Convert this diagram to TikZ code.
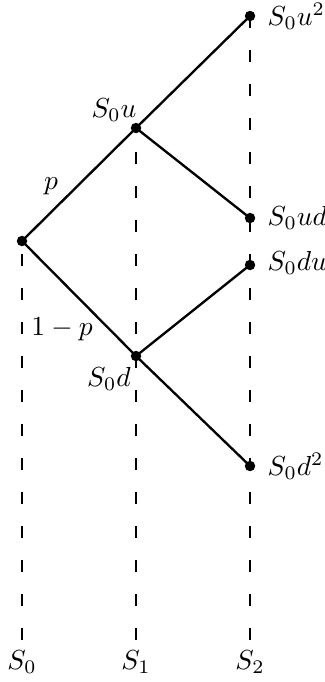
\documentclass[tikz,border=0pt]{standalone}
\pgfdeclarelayer{bg}
\pgfsetlayers{bg,main}
\begin{document}
\begin{tikzpicture}[x=0.3636pt,y=-0.3636pt,
  dot/.style={circle,fill=black,inner sep=0pt,minimum size=3.8pt},
  branch/.style={line width=0.85pt},
  guide/.style={line width=0.85pt,dash pattern=on 4.36pt off 8pt},
  lab/.style={inner sep=0pt}]
\useasboundingbox (0,0) rectangle (324,682);
% tree nodes
\node[dot] (A) at (22,241) {};
\node[dot] (B) at (136,128) {};
\node[dot] (C) at (250,16) {};
\node[dot] (D) at (250,218) {};
\node[dot] (E) at (250,265) {};
\node[dot] (F) at (136,356) {};
\node[dot] (G) at (250,466) {};
% value labels
\node[anchor=west] (tC) at (258,16) {$S_0u^2$};
\node[anchor=west] (tD) at (258,218) {$S_0ud$};
\node[anchor=west] (tE) at (258,263) {$S_0du$};
\node[anchor=west] (tG) at (258,466) {$S_0d^2$};
\node (tB) at (114,110) {$S_0u$};
\node (tF) at (109,379) {$S_0d$};
\node (lp) at (51,186) {$p$};
\node (lq) at (62,329) {$1-p$};
% bottom labels
\node (L0) at (22,662) {$S_0$};
\node (L1) at (136,662) {$S_1$};
\node (L2) at (250,662) {$S_2$};
\coordinate (b0) at (22,640);
\coordinate (b1) at (136,640);
\coordinate (b2) at (250,640);
\begin{pgfonlayer}{bg}
\draw[guide] (b0) -- (A.center);
\draw[guide] (b1) -- (B.center);
\draw[guide] (b2) -- (C.center);
\draw[branch] (A.center) -- (B.center);
\draw[branch] (B.center) -- (C.center);
\draw[branch] (B.center) -- (D.center);
\draw[branch] (A.center) -- (F.center);
\draw[branch] (F.center) -- (E.center);
\draw[branch] (F.center) -- (G.center);
\end{pgfonlayer}
\end{tikzpicture}
\end{document}
